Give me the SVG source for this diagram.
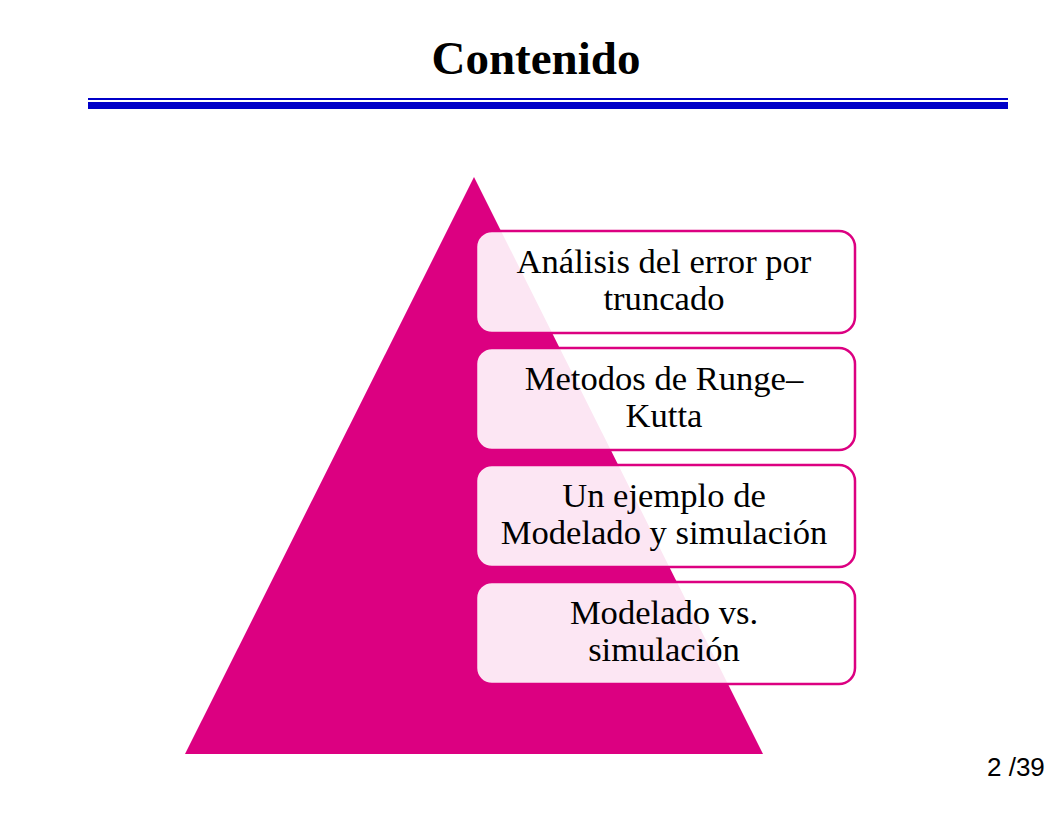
<svg xmlns="http://www.w3.org/2000/svg" width="1056" height="816" viewBox="0 0 1056 816">
<style>
.title{font-family:"Liberation Serif",serif;font-weight:bold;font-size:47px;fill:#000}
.lbl{font-family:"Liberation Serif",serif;font-size:34.6px;fill:#000;text-anchor:middle}
.box{fill:#ffffff;fill-opacity:0.9;stroke:#DC0081;stroke-width:2.5}
.pg{font-family:"Liberation Sans",sans-serif;font-size:26px;fill:#000}
</style>
<rect width="1056" height="816" fill="#ffffff"/>
<text class="title" x="536" y="74" text-anchor="middle">Contenido</text>
<rect x="88" y="98" width="920" height="2" fill="#0000C8"/>
<rect x="88" y="102" width="920" height="7" fill="#0000C8"/>
<g id="pyramid"><polygon points="474,177 185,754 763,754" fill="#DC0081"/></g>
<g id="connectors"></g>
<g id="node1"><rect class="box" x="476" y="231" width="379" height="102" rx="16"/>
<text class="lbl" x="664" y="273">Análisis del error por</text><text class="lbl" x="664" y="310">truncado</text></g>
<g id="node2"><rect class="box" x="476" y="348" width="379" height="102" rx="16"/>
<text class="lbl" x="664" y="390">Metodos de Runge–</text><text class="lbl" x="664" y="427">Kutta</text></g>
<g id="node3"><rect class="box" x="476" y="465" width="379" height="102" rx="16"/>
<text class="lbl" x="664" y="507">Un ejemplo de</text><text class="lbl" x="664" y="544">Modelado y simulación</text></g>
<g id="node4"><rect class="box" x="476" y="582" width="379" height="102" rx="16"/>
<text class="lbl" x="664" y="624">Modelado vs.</text><text class="lbl" x="664" y="661">simulación</text></g>
<text class="pg" x="987" y="776">2 /39</text>
</svg>
